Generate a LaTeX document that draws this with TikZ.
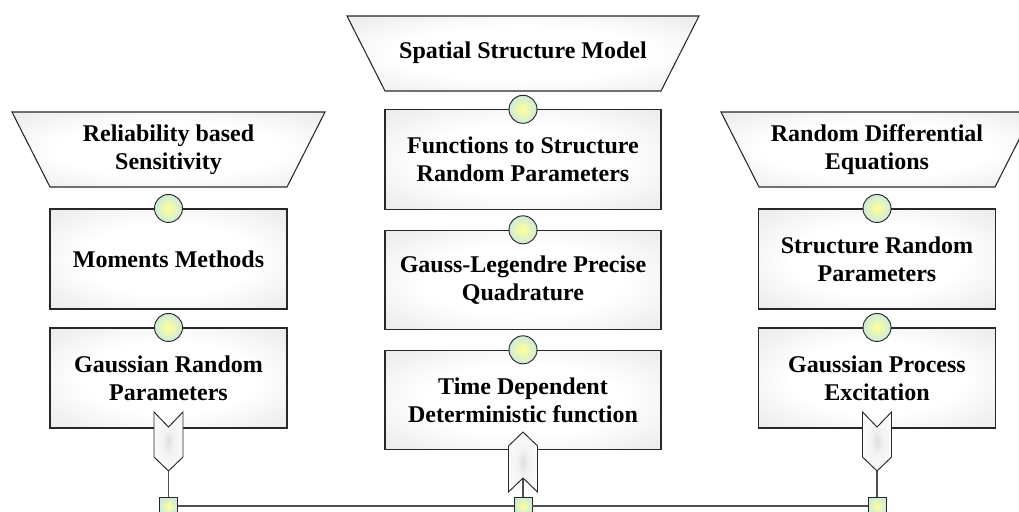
\documentclass[tikz,border=0pt]{standalone}
\usepackage{fontspec}
\setmainfont{Liberation Serif}
\usetikzlibrary{shapes.geometric}
\definecolor{edge}{RGB}{40,40,40}
\definecolor{conn}{RGB}{80,80,80}
\definecolor{ballin}{RGB}{255,255,150}
\definecolor{ballout}{RGB}{205,235,220}
\pgfdeclareradialshading{paneshade}{\pgfpoint{0bp}{0bp}}{color(0bp)=(white); color(18bp)=(white); color(40bp)=(black!10); color(50bp)=(black!17)}
\pgfdeclareradialshading{chevshade}{\pgfpoint{0bp}{0bp}}{color(0bp)=(black!13); color(10bp)=(black!5); color(25bp)=(black!2); color(50bp)=(white)}
\tikzset{
  lbl/.style={font=\fontsize{18pt}{21pt}\selectfont\bfseries, align=center, text=black},
  stagebox/.style={draw=edge, line width=0.8pt, shading=paneshade,
     minimum width=177.75pt, minimum height=75pt, lbl},
  widebox/.style={stagebox, minimum width=207pt, minimum height=74.5pt},
  trap/.style={draw=edge, line width=0.8pt, shading=paneshade},
  ball/.style={circle, draw=edge, line width=0.7pt, shade, inner color=ballin, outer color=ballout,
     minimum size=21pt, inner sep=0pt},
  port/.style={rectangle, draw=edge, line width=0.7pt, shade, inner color=ballin, outer color=ballout,
     minimum size=13.5pt, inner sep=0pt},
  chev/.style={draw=edge, line width=0.7pt, shading=chevshade},
  link/.style={draw=conn, line width=1.1pt}
}
\begin{document}
\begin{tikzpicture}[x=0.75pt,y=-0.75pt]
\useasboundingbox (0,0) rectangle (1019,511);
\clip (0,0) rectangle (1019,511);
% trapezoids
\path[trap] (12,112) -- (325,112) -- (287,187) -- (50,187) -- cycle;
\node[lbl] (tL) at (168.5,150) {Reliability based\\Sensitivity};
\path[trap] (347,16) -- (699,16) -- (661,91) -- (385,91) -- cycle;
\node[lbl] (tM) at (523,53) {Spatial Structure Model};
\path[trap] (721,112) -- (1033,112) -- (995,187) -- (759,187) -- cycle;
\node[lbl] (tR) at (877,150) {Random Differential\\Equations};
% boxes
\node[stagebox] (L1) at (168.5,259) {Moments Methods};
\node[stagebox] (L2) at (168.5,378) {Gaussian Random\\Parameters};
\node[widebox] (M1) at (523,159.5) {Functions to Structure\\Random Parameters};
\node[widebox] (M2) at (523,280) {Gauss-Legendre Precise\\Quadrature};
\node[widebox] (M3) at (523,400) {Time Dependent\\Deterministic function};
\node[stagebox] (R1) at (877,259) {Structure Random\\Parameters};
\node[stagebox] (R2) at (877,378) {Gaussian Process\\Excitation};
% ports
\node[port] (pL) at (168.5,506) {};
\node[port] (pM) at (523,506) {};
\node[port] (pR) at (877,506) {};
% chevron tips
\coordinate (tipL) at (168.5,471);
\coordinate (tipM) at (523,478);
\coordinate (tipR) at (877,471);
\draw[link] (tipL) -- (pL.north);
\draw[link] (tipM) -- (pM.north);
\draw[link] (tipR) -- (pR.north);
\draw[link] (pL.east) -- (pM.west);
\draw[link] (pM.east) -- (pR.west);
% chevrons
\path[chev] (154,412) -- (168.5,427) -- (183,412) -- (183,457) -- (tipL) -- (154,457) -- cycle;
\path[chev] (523,432) -- (537.5,446) -- (537.5,492) -- (tipM) -- (508.5,492) -- (508.5,446) -- cycle;
\path[chev] (862.5,412) -- (877,427) -- (891.5,412) -- (891.5,457) -- (tipR) -- (862.5,457) -- cycle;
% balls
\node[ball] (bL1) at (L1.north) {};
\node[ball] (bL2) at (L2.north) {};
\node[ball] (bM1) at (M1.north) {};
\node[ball] (bM2) at (M2.north) {};
\node[ball] (bM3) at (M3.north) {};
\node[ball] (bR1) at (R1.north) {};
\node[ball] (bR2) at (R2.north) {};
\end{tikzpicture}
\end{document}
